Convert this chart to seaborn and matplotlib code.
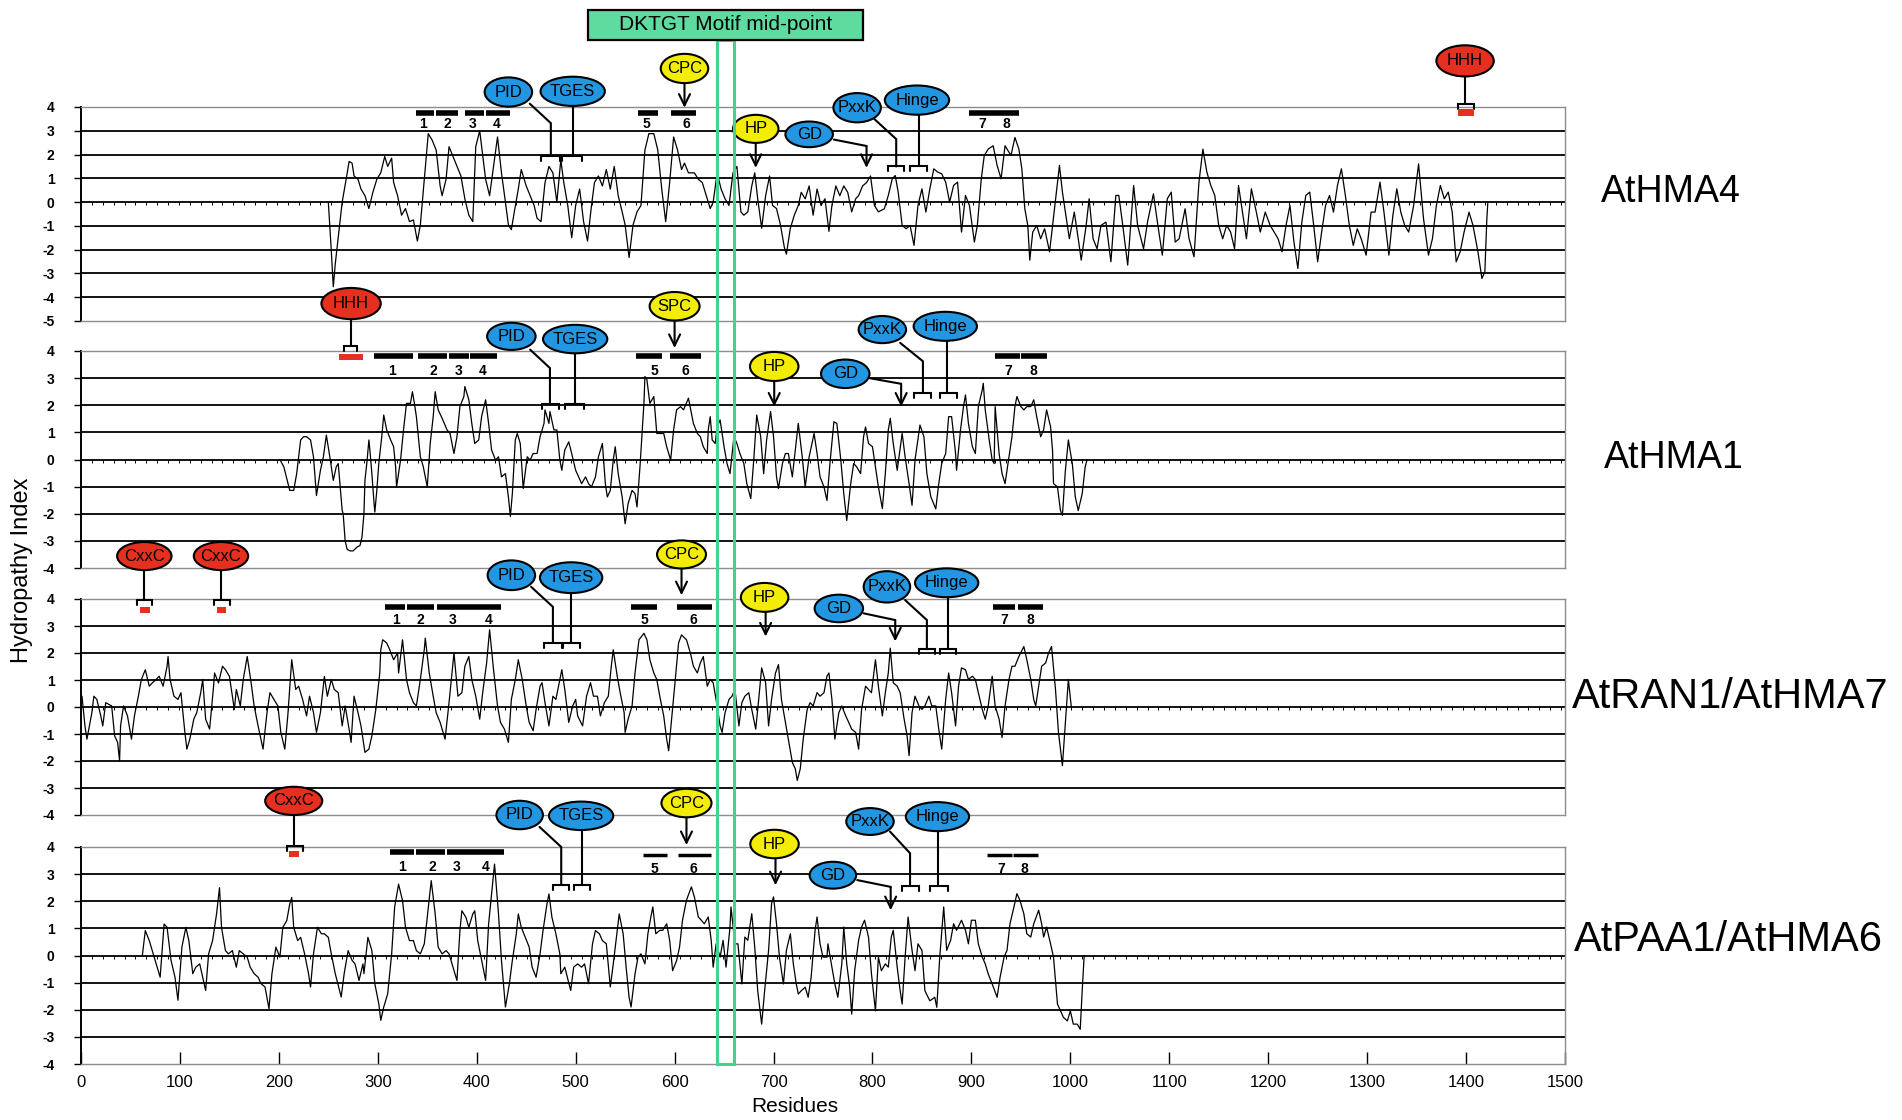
import numpy as np
import pandas as pd
import matplotlib
matplotlib.use("Agg")
import matplotlib.pyplot as plt
import seaborn as sns
from matplotlib.patches import Ellipse, Rectangle
from matplotlib.transforms import blended_transform_factory

# ---------------- data: (residue, hydropathy index) ----------------
hma4_profile = [
    (250, 0.0), (253, -2.05), (255, -3.56), (257, -2.6), (260, -1.5), (264, 0.0), (268, 0.96), (271, 1.71),
    (274, 1.64), (276, 1.1), (280, 0.96), (283, 0.55), (287, 0.27), (291, -0.27), (295, 0.41), (299, 0.96),
    (303, 1.23), (307, 1.92), (310, 1.5), (314, 1.85), (316, 0.82), (320, 0.27), (324, -0.55), (328, -0.27),
    (332, -0.82), (336, -0.75), (340, -1.64), (343, -0.96), (347, 0.96), (351, 2.88), (355, 2.6), (359, 2.19),
    (363, 0.68), (365, 0.27), (369, 0.96), (372, 2.33), (376, 1.92), (380, 1.5), (384, 1.1), (388, 0.14),
    (392, -0.55), (396, -0.82), (399, 2.33), (403, 3.0), (405, 2.33), (409, 0.96), (413, 0.27), (417, 1.5),
    (421, 2.74), (425, 1.23), (429, 0.0), (432, -0.96), (435, -1.16), (438, -0.41), (442, 0.55), (445, 1.37),
    (450, 0.68), (454, 0.27), (458, -0.14), (461, -0.68), (465, -0.82), (469, 0.82), (473, 1.5), (477, 1.23),
    (481, 0.0), (485, 1.78), (488, 0.82), (492, -0.14), (496, -1.5), (500, -0.14), (504, 0.55), (508, -0.82),
    (512, -1.64), (516, -0.14), (519, 0.82), (523, 1.1), (527, 0.68), (531, 1.37), (535, 0.55), (539, 1.5),
    (543, 0.27), (547, -0.41), (550, -0.96), (554, -2.33), (558, -0.96), (562, -0.41), (566, -0.14), (570, 2.19),
    (574, 2.88), (579, 2.88), (583, 2.19), (587, 0.55), (591, -0.82), (595, 0.82), (599, 2.74), (603, 2.19),
    (607, 1.37), (610, 1.64), (614, 1.23), (620, 1.23), (624, 0.96), (628, 0.82), (632, 0.27), (636, -0.27),
    (639, 0.0), (643, 1.23), (647, 0.55), (651, 0.14), (655, -0.14), (659, 1.23), (663, 1.5), (667, -0.41),
    (670, -0.55), (674, -0.41), (678, 0.68), (681, 1.23), (684, 0.14), (688, -1.1), (692, 0.27), (696, 1.1),
    (699, -0.14), (703, -0.27), (707, -0.96), (711, -1.92), (713, -2.19), (717, -1.1), (721, -0.55), (725, -0.14),
    (728, 0.41), (732, 0.14), (736, 0.68), (740, -0.55), (744, 0.55), (748, -0.14), (752, 0.14), (756, -1.23),
    (759, -0.14), (763, 0.68), (767, 0.27), (771, 0.68), (775, 0.41), (779, -0.41), (783, 0.14), (786, 0.27),
    (790, 0.68), (794, 0.82), (798, 1.1), (802, -0.14), (806, -0.41), (812, -0.28), (816, 0.28), (820, 0.98),
    (823, 1.12), (826, 0.42), (830, -0.98), (834, -1.12), (838, -0.98), (842, -1.82), (846, -0.14), (850, 0.56),
    (854, -0.42), (858, 0.56), (862, 1.4), (866, 1.26), (870, 1.19), (874, 0.84), (878, 0.0), (882, 0.7),
    (886, 0.84), (890, -1.26), (894, 0.28), (898, -0.14), (903, -1.68), (906, -0.98), (910, 0.98), (913, 1.96),
    (917, 2.23), (922, 2.37), (926, 1.54), (930, 0.98), (934, 2.37), (940, 1.96), (944, 2.72), (948, 2.23),
    (951, 1.4), (954, -0.28), (957, -0.98), (959, -2.44), (962, -1.26), (966, -0.98), (970, -1.54), (974, -1.12),
    (979, -2.09), (984, -0.28), (989, 1.54), (992, 0.42), (996, -0.7), (999, -1.54), (1004, -0.42), (1008, -1.54),
    (1011, -2.44), (1016, -0.98), (1019, 0.14), (1023, -1.54), (1027, -1.96), (1031, -0.98), (1036, -0.84),
    (1041, -2.51), (1046, 0.28), (1049, 0.28), (1053, -0.98), (1058, -2.65), (1064, 0.7), (1068, -0.98),
    (1074, -1.96), (1078, -0.84), (1084, 0.35), (1088, -0.84), (1093, -2.23), (1098, 0.14), (1102, 0.42),
    (1106, -1.68), (1110, -1.54), (1116, -0.28), (1120, -1.54), (1125, -2.3), (1130, 0.84), (1134, 2.23),
    (1138, 1.26), (1142, 0.7), (1146, 0.28), (1150, -0.98), (1154, -1.54), (1158, -0.98), (1162, -1.26),
    (1166, -1.96), (1170, 0.7), (1174, -0.42), (1178, -1.54), (1183, 0.56), (1188, -0.42), (1192, -1.26),
    (1197, -0.42), (1202, -0.98), (1206, -1.26), (1210, -1.54), (1214, -2.09), (1218, -0.98), (1222, -0.14),
    (1226, -1.68), (1230, -2.79), (1234, -0.84), (1238, 0.28), (1242, 0.42), (1246, -0.98), (1250, -2.51),
    (1254, -1.26), (1258, -0.14), (1262, 0.28), (1266, -0.42), (1270, 0.7), (1274, 1.4), (1278, 0.28),
    (1282, -0.98), (1286, -1.82), (1290, -1.12), (1294, -1.54), (1299, -2.23), (1304, -0.42), (1308, -0.42),
    (1313, 0.84), (1317, -0.42), (1322, -2.23), (1326, -0.56), (1330, 0.56), (1334, -0.42), (1338, -0.98),
    (1342, -1.26), (1347, -0.14), (1352, 1.61), (1357, -0.7), (1362, -2.23), (1366, -1.54), (1370, -0.14),
    (1374, 0.7), (1378, 0.14), (1382, 0.42), (1386, -0.42), (1390, -2.51), (1394, -2.09), (1398, -1.26),
    (1403, -0.42), (1407, -0.98), (1412, -2.09), (1416, -3.21), (1419, -2.93), (1421, -0.7), (1422, 0.0),
]

hma1_profile = [
    (201, 0.0), (205, -0.27), (208, -0.7), (211, -1.14), (215, -1.14), (218, -0.52), (222, 0.72), (225, 0.84),
    (228, 0.84), (232, 0.72), (235, 0.1), (238, -1.33), (242, -0.4), (245, 0.1), (248, 0.9), (252, -0.02),
    (255, -0.77), (258, -0.27), (260, -0.15), (264, -1.88), (265, -2.0), (267, -3.0), (269, -3.31), (272, -3.37),
    (275, -3.37), (279, -3.23), (282, -3.17), (284, -2.86), (286, -2.0), (287, -0.77), (289, -0.1), (291, 0.72),
    (292, 0.35), (294, -0.52), (296, -1.51), (297, -1.94), (299, -1.14), (301, -0.15), (304, 0.84), (306, 1.64),
    (309, 1.09), (313, 0.72), (316, 0.47), (318, -0.27), (319, -1.01), (323, -0.02), (326, 1.09), (329, 2.07),
    (333, 2.07), (335, 2.5), (337, 2.07), (339, 1.58), (343, 0.1), (346, -0.27), (350, -1.01), (353, 0.6),
    (356, 1.58), (358, 2.5), (361, 1.83), (365, 1.52), (370, 1.09), (373, 0.96), (377, 0.22), (380, 0.84),
    (383, 1.95), (387, 2.32), (388, 2.69), (392, 2.2), (395, 1.33), (398, 0.59), (402, 0.72), (405, 1.6),
    (409, 2.2), (412, 1.33), (415, 0.35), (419, -0.02), (422, 0.1), (425, -0.64), (429, -0.52), (432, -1.38),
    (434, -2.1), (436, -1.26), (439, 0.72), (441, 0.96), (444, 0.59), (447, -1.07), (451, 0.1), (454, -0.02),
    (457, 0.22), (461, 0.22), (464, 0.84), (468, 1.33), (469, 1.83), (473, 1.33), (474, 1.77), (478, 1.09),
    (481, 1.09), (484, -0.02), (486, -0.4), (489, 0.35), (493, 0.65), (496, 0.22), (500, -0.4), (503, -0.64),
    (506, -0.89), (510, -0.64), (513, -0.89), (516, -1.01), (520, -0.64), (523, 0.1), (527, 0.59), (530, -0.89),
    (532, -1.38), (535, -1.14), (538, -0.02), (540, 0.47), (543, -0.52), (547, -1.38), (550, -2.37), (553, -1.63),
    (557, -1.14), (560, -1.26), (562, -1.75), (565, -0.27), (569, 2.07), (570, 3.06), (572, 2.94), (575, 2.07),
    (579, 2.32), (582, 0.96), (585, 0.96), (589, 0.96), (592, 0.47), (596, -0.02), (599, 1.09), (602, 1.83),
    (606, 1.95), (609, 1.83), (614, 2.26), (619, 1.33), (623, 0.96), (626, 0.84), (629, 0.47), (633, 0.22),
    (634, 1.09), (636, 1.58), (638, 0.72), (641, 0.59), (643, 1.2), (646, 1.46), (650, 0.47), (653, -0.15),
    (656, -0.52), (660, 0.84), (663, 0.59), (666, 0.22), (670, -0.15), (673, -0.89), (677, -1.44), (680, -0.02),
    (683, 1.64), (687, 0.84), (690, -0.52), (693, 0.72), (697, 1.77), (700, 0.84), (703, -0.64), (705, -1.07),
    (709, -0.15), (712, 0.22), (715, 0.22), (719, -0.64), (722, 0.35), (725, 1.33), (729, 0.1), (732, -1.01),
    (736, 0.1), (741, 0.96), (744, 0.22), (747, -0.64), (751, -1.01), (754, -1.51), (757, -0.15), (761, 1.39),
    (764, 1.33), (768, -0.02), (771, -1.26), (774, -2.25), (778, -0.89), (781, -0.15), (784, -0.27), (788, -0.52),
    (791, 0.84), (793, 1.2), (796, 0.59), (800, 0.47), (803, -0.27), (806, -1.01), (810, -1.81), (813, -0.52),
    (816, 1.09), (818, 1.52), (821, 0.59), (825, -0.4), (830, 0.96), (833, 0.1), (837, -0.89), (840, -1.69),
    (843, -0.02), (848, 1.27), (852, 0.84), (855, -0.52), (859, -1.38), (864, -1.82), (867, -0.89), (870, -0.15),
    (874, 0.22), (877, 1.58), (880, 1.58), (884, 0.22), (885, -0.4), (889, 1.09), (892, 1.95), (894, 2.38),
    (897, 1.33), (901, 0.47), (904, 0.22), (907, 1.95), (911, 2.57), (912, 2.81), (914, 1.83), (918, 0.72),
    (921, -0.02), (923, -0.15), (924, 1.95), (928, 0.22), (931, -0.52), (934, -0.89), (938, 0.1), (941, 0.84),
    (944, 1.95), (946, 2.32), (950, 1.95), (953, 1.83), (956, 1.95), (960, 1.95), (963, 2.2), (966, 1.58),
    (970, 0.84), (973, 1.09), (976, 1.83), (980, 1.21), (982, 0.35), (983, -0.89), (987, -1.01), (990, -1.88),
    (992, -2.06), (995, -0.4), (998, 0.72), (1002, -0.15), (1005, -1.38), (1008, -1.88), (1012, -1.26),
    (1015, -0.27), (1017, 0.0),
]

ran1_profile = [
    (1, 0.4), (4, -0.7), (6, -1.19), (11, -0.21), (13, 0.4), (16, 0.28), (20, -0.33), (22, -0.7), (25, 0.16),
    (31, 0.04), (34, -1.07), (37, -1.31), (39, -2.0), (40, -0.7), (43, 0.04), (47, -0.33), (51, -1.19),
    (54, -0.33), (58, 0.4), (61, 1.02), (65, 1.38), (69, 0.77), (72, 0.89), (76, 1.02), (79, 1.14), (83, 0.77),
    (87, 1.51), (88, 1.87), (90, 1.02), (94, 0.4), (98, 0.28), (101, 0.53), (105, -0.94), (107, -1.56),
    (110, -1.19), (114, -0.45), (117, -0.21), (121, 0.53), (123, 1.02), (126, -0.45), (130, -0.82), (134, 0.77),
    (135, 1.26), (139, 0.89), (143, 1.51), (146, 1.38), (150, 1.14), (153, 0.4), (155, -0.09), (157, 0.65),
    (161, 0.04), (164, 1.02), (168, 1.87), (172, 0.89), (175, 0.04), (179, -0.7), (184, -1.56), (188, -0.21),
    (191, 0.53), (195, 0.28), (199, 0.04), (202, -0.94), (206, -1.56), (209, -0.33), (213, 1.75), (217, 0.65),
    (220, 0.77), (224, 0.28), (228, -0.33), (231, 0.4), (235, -0.21), (238, -0.94), (242, -0.21), (246, 1.13),
    (249, 0.4), (253, 1.02), (256, 0.65), (260, 0.53), (264, -0.7), (267, 0.04), (271, -0.82), (273, -1.31),
    (276, 0.4), (280, -0.21), (283, -0.7), (287, -1.68), (291, -1.56), (294, -1.07), (298, -0.09), (302, 1.26),
    (303, 2.12), (305, 2.49), (309, 2.37), (312, 2.13), (316, 1.75), (320, 2.0), (321, 1.26), (325, 2.49),
    (329, 1.02), (332, 0.53), (336, 0.16), (339, 0.04), (343, 1.02), (347, 2.13), (348, 2.55), (352, 1.26),
    (356, 0.4), (359, -0.21), (363, -0.57), (368, -1.19), (372, 0.16), (376, 1.63), (377, 2.0), (381, 0.4),
    (385, 0.53), (388, 1.51), (392, 1.87), (395, 1.02), (399, 0.4), (403, -0.45), (406, 0.53), (410, 1.63),
    (413, 2.86), (417, 1.38), (421, 0.04), (424, -0.57), (428, -0.82), (432, -1.31), (435, 0.28), (439, 1.02),
    (442, 1.75), (446, 1.02), (450, 0.04), (453, -0.57), (457, -0.88), (460, -0.09), (464, 0.77), (466, 0.9),
    (469, 0.16), (473, -0.7), (477, 0.4), (480, 0.28), (486, 1.38), (489, 0.65), (493, -0.57), (497, 0.04),
    (500, 0.28), (502, -0.33), (507, -0.7), (511, 0.4), (515, 0.9), (518, 0.4), (522, 0.4), (525, -0.33),
    (529, 0.16), (533, 0.4), (536, 1.51), (538, 2.12), (542, 1.14), (545, 0.53), (549, -0.21), (550, -0.94),
    (553, -0.45), (557, 0.04), (560, 1.26), (564, 2.49), (569, 2.73), (572, 2.49), (575, 1.75), (579, 1.26),
    (582, 1.02), (585, 0.4), (589, -0.33), (592, -1.19), (594, -1.62), (597, -0.45), (601, 1.14), (604, 2.37),
    (607, 2.67), (612, 2.49), (616, 1.99), (619, 1.51), (623, 1.26), (626, 1.63), (629, 1.87), (633, 0.77),
    (636, 1.02), (639, 0.9), (643, 0.04), (646, -0.7), (648, -0.94), (651, -0.21), (655, 0.28), (658, 0.4),
    (661, 0.65), (665, -0.7), (668, 0.16), (671, 0.4), (675, 0.53), (678, -0.09), (682, -0.82), (685, 0.28),
    (688, 1.45), (692, 0.9), (695, -0.7), (698, 0.28), (702, 1.26), (705, 1.57), (708, 0.28), (712, -0.57),
    (715, -1.19), (719, -2.05), (722, -2.29), (724, -2.72), (727, -2.29), (730, -1.19), (734, -0.09), (737, 0.16),
    (740, 0.04), (744, 0.53), (747, 0.4), (751, 0.53), (754, 1.14), (756, 1.26), (759, 0.28), (762, -1.19),
    (766, -0.21), (769, 0.04), (773, -0.33), (776, -0.57), (779, -0.82), (783, -0.94), (786, -1.56), (789, -0.09),
    (793, 0.77), (796, 0.65), (799, 0.53), (803, 1.75), (806, 0.77), (810, -0.33), (813, 0.53), (816, 1.26),
    (818, 2.18), (821, 0.9), (825, 0.77), (828, 0.53), (832, -0.45), (835, -1.07), (837, -1.8), (840, -0.21),
    (843, 0.4), (847, 0.04), (850, -0.09), (853, 0.04), (857, 0.4), (860, 0.04), (864, 0.04), (867, -0.82),
    (870, -1.56), (874, 0.28), (877, 1.26), (880, 0.53), (884, -0.7), (887, 0.77), (890, 1.45), (894, 1.38),
    (897, 1.02), (901, 1.14), (904, 1.02), (907, 0.53), (911, -0.09), (914, -0.45), (917, 0.04), (921, 1.14),
    (924, 0.04), (928, -0.45), (931, -1.13), (934, 0.04), (938, 1.02), (941, 1.51), (944, 1.51), (948, 1.87),
    (953, 2.24), (956, 1.75), (960, 1.02), (963, 0.28), (965, 0.04), (968, 0.77), (971, 1.51), (975, 1.63),
    (978, 2.0), (981, 2.24), (985, 0.65), (988, -0.94), (992, -2.17), (995, -0.57), (998, 1.02), (1001, 0.0),
]

paa1_profile = [
    (62, 0.0), (65, 0.92), (69, 0.55), (73, 0.06), (76, -0.31), (80, -0.8), (84, 1.16), (87, 1.04), (91, -0.18),
    (95, -0.8), (98, -1.65), (102, 0.31), (106, 1.04), (109, 0.55), (113, -0.67), (116, -0.43), (120, -0.31),
    (126, -1.29), (129, 0.06), (133, 0.55), (137, 1.53), (140, 2.5), (142, 1.04), (146, 0.18), (149, 0.06),
    (153, 0.18), (157, -0.43), (160, 0.18), (164, 0.06), (168, -0.06), (171, -0.43), (175, -0.67), (179, -0.8),
    (182, -1.04), (186, -1.16), (190, -1.96), (193, -0.67), (197, 0.31), (201, -0.06), (204, 1.04), (208, 1.29),
    (211, 1.9), (213, 2.14), (215, 1.04), (219, 0.55), (222, 0.67), (226, 0.06), (230, -0.67), (232, -1.16),
    (235, 0.06), (239, 1.04), (243, 0.8), (246, 0.8), (250, 0.67), (253, 0.06), (257, -0.67), (263, -1.53),
    (266, -0.67), (270, 0.18), (274, -0.18), (277, -0.31), (281, -0.92), (285, -0.31), (286, -0.67), (290, 0.67),
    (294, 0.18), (297, -1.04), (301, -1.78), (303, -2.39), (306, -1.9), (310, -1.41), (314, 0.06), (317, 1.78),
    (321, 2.63), (325, 2.02), (328, 1.04), (332, 0.55), (336, 0.55), (339, 0.18), (343, 0.06), (347, 0.43),
    (350, 1.41), (354, 2.76), (358, 1.53), (361, 0.31), (365, 0.06), (369, 0.18), (372, 0.06), (376, -0.43),
    (380, -0.92), (383, 0.92), (385, 1.65), (389, 1.41), (392, 1.04), (396, 1.53), (398, 1.65), (401, 0.55),
    (405, -0.18), (409, -0.92), (412, 1.16), (416, 2.63), (418, 3.37), (422, 1.53), (425, -0.18), (429, -1.9),
    (433, -1.04), (436, -0.18), (440, 0.8), (442, 1.53), (445, 1.04), (449, 0.67), (453, 0.31), (456, -0.43),
    (460, -0.8), (464, 0.06), (467, 0.92), (471, 1.9), (473, 2.27), (476, 1.41), (480, 0.8), (484, 0.06),
    (485, -0.67), (489, -0.43), (495, -1.29), (498, -0.43), (502, -0.31), (506, -0.43), (509, -0.31), (513, -1.04),
    (517, 0.43), (520, 0.92), (524, 0.8), (527, 0.55), (531, 0.43), (535, -1.16), (538, -0.31), (544, 1.53),
    (548, 0.8), (551, -0.43), (554, -1.54), (556, -1.9), (560, -0.68), (563, -0.06), (566, 0.06), (570, -0.31),
    (573, 0.8), (576, 1.42), (578, 1.79), (581, 0.8), (585, 0.93), (588, 0.93), (592, 1.17), (595, 0.56),
    (598, -0.56), (602, -0.19), (605, 0.31), (608, 1.3), (612, 2.04), (617, 2.53), (620, 2.16), (624, 1.42),
    (627, 1.3), (630, 1.17), (634, 1.42), (637, 0.56), (639, -0.43), (642, 0.43), (646, -0.06), (649, 0.56),
    (652, -0.43), (656, 1.05), (657, 1.79), (661, 0.43), (664, 0.43), (668, -1.05), (671, 0.68), (674, 0.56),
    (678, 1.54), (681, 0.31), (684, -1.3), (688, -2.53), (691, -1.3), (695, 0.19), (698, 1.91), (700, 2.16),
    (703, 1.17), (706, -0.06), (710, -1.05), (713, 0.19), (717, 0.8), (720, -0.31), (723, -1.05), (725, -1.42),
    (728, -1.3), (732, -1.17), (735, -1.54), (738, -0.8), (742, 0.93), (744, 1.42), (747, 0.43), (750, -0.06),
    (754, -0.06), (755, 0.43), (759, -0.43), (762, -1.05), (765, -1.54), (769, -0.31), (771, 1.05), (774, -0.31),
    (777, -1.17), (779, -2.16), (782, -0.56), (786, 0.56), (789, 1.05), (792, 1.3), (796, 0.68), (799, -0.68),
    (803, -2.04), (806, -0.06), (809, -0.56), (813, -0.31), (816, -0.43), (819, 0.68), (821, 0.93), (825, -0.43),
    (828, -1.3), (830, -1.79), (833, -0.06), (836, 1.42), (840, 0.19), (843, -0.56), (846, 0.43), (850, 0.19),
    (853, -1.3), (858, -1.67), (863, -1.54), (865, -1.91), (868, -0.06), (872, 1.79), (875, 0.19), (879, 0.56),
    (882, 1.17), (885, 0.93), (890, 1.3), (894, 0.93), (897, 0.43), (900, 1.3), (904, 1.3), (907, 0.43),
    (911, -0.06), (914, -0.31), (917, -0.68), (921, -1.05), (926, -1.54), (929, -0.8), (933, -0.06), (936, 0.19),
    (939, 1.17), (943, 1.79), (946, 2.28), (949, 2.04), (953, 1.54), (956, 0.8), (960, 0.68), (963, 1.17),
    (968, 1.67), (971, 1.17), (973, 0.68), (976, 1.05), (980, 0.43), (983, -0.06), (987, -1.79), (990, -2.04),
    (993, -2.28), (997, -2.41), (1000, -2.04), (1003, -2.53), (1007, -2.53), (1010, -2.72), (1012, -1.3),
    (1014, 0.0),
]

protein_names = ["AtHMA4", "AtHMA1", "AtRAN1/AtHMA7", "AtPAA1/AtHMA6"]
x_tick_values = list(range(0, 1501, 100))
motif_label = "DKTGT Motif mid-point"
motif_span = (643, 660)

BLUE, YEL, RED = "#2396e1", "#f3ec05", "#e6301f"

# ---------------- annotation layout per panel ----------------
specs = [
    dict(
        ellipses=[("PID", 432, 4.63, 48, 1.23, BLUE), ("TGES", 497, 4.66, 65, 1.23, BLUE),
                  ("CPC", 610, 5.62, 48, 1.23, YEL), ("HP", 682, 3.08, 46, 1.18, YEL),
                  ("GD", 736, 2.85, 48, 1.08, BLUE), ("PxxK", 784.5, 3.97, 48, 1.23, BLUE),
                  ("Hinge", 845, 4.29, 65, 1.23, BLUE), ("HHH", 1399, 5.94, 58, 1.31, RED)],
        bars=[(339, 357, 3.73, 4), (359, 381, 3.73, 4), (388, 407, 3.73, 4), (409, 434, 3.73, 4),
              (563, 583, 3.73, 4), (596, 622, 3.73, 4), (898, 948, 3.73, 4)],
        labels=[("1", 346, 3.29), ("2", 370, 3.29), ("3", 396, 3.29), ("4", 420, 3.29),
                ("5", 572, 3.29), ("6", 612, 3.29), ("7", 911, 3.29), ("8", 935, 3.29)],
        lines=[[(453.6, 4.14), (474.9, 3.32), (474.9, 1.95)], [(497, 4.05), (497, 1.95)],
               [(802, 3.49), (824, 2.65), (824, 1.5)], [(847, 3.68), (847, 1.5)],
               [(1399, 5.29), (1399, 4.12)], [(761, 2.63), (794, 2.36)]],
        brackets=[(465, 484.6, 1.95), (486.5, 505.9, 1.95), (816, 832, 1.5), (838, 855, 1.5),
                  (1392, 1408, 4.12)],
        arrows=[(610, 5.0, 3.97), (682, 2.49, 1.44), (794, 2.36, 1.44)],
        red_boxes=[(1392, 1408, 3.62, 3.92)],
    ),
    dict(
        ellipses=[("HHH", 273, 5.75, 60, 1.15, RED), ("PID", 435, 4.54, 49, 1.0, BLUE),
                  ("TGES", 499.5, 4.44, 65, 1.05, BLUE), ("SPC", 600, 5.65, 50.5, 1.05, YEL),
                  ("HP", 700.7, 3.43, 49, 1.07, YEL), ("GD", 772.5, 3.16, 49, 1.05, BLUE),
                  ("PxxK", 810, 4.79, 48, 1.0, BLUE), ("Hinge", 873.6, 4.91, 64, 1.07, BLUE)],
        bars=[(296, 336, 3.8, 4), (341, 370, 3.8, 4), (372, 392, 3.8, 4), (393, 420, 3.8, 4),
              (561, 587, 3.8, 4), (595, 627, 3.8, 4), (924, 949, 3.8, 4), (950, 976, 3.8, 4)],
        labels=[("1", 314, 3.25), ("2", 356, 3.25), ("3", 382, 3.25), ("4", 406, 3.25),
                ("5", 580, 3.25), ("6", 611, 3.25), ("7", 937, 3.25), ("8", 963, 3.25)],
        lines=[[(273, 5.17), (273, 4.17)], [(454, 4.05), (474, 3.37), (474, 2.05)],
               [(499, 3.92), (499, 2.05)], [(797, 3.0), (829, 2.79)],
               [(828, 4.3), (851, 3.62), (851, 2.47)], [(875, 4.36), (875, 2.47)]],
        brackets=[(266, 279.4, 4.17), (466, 483, 2.05), (489, 508, 2.05), (842, 859, 2.47),
                  (868, 885, 2.47)],
        arrows=[(600, 5.12, 4.11), (700.7, 2.9, 1.95), (829, 2.79, 1.95)],
        red_boxes=[(261, 285.5, 3.66, 3.9)],
    ),
    dict(
        ellipses=[("CxxC", 64, 5.59, 55, 1.04, RED), ("CxxC", 141.5, 5.59, 55, 1.04, RED),
                  ("PID", 435, 4.88, 48, 1.1, BLUE), ("TGES", 495.4, 4.79, 63, 1.14, BLUE),
                  ("CPC", 607, 5.65, 49.5, 1.04, YEL), ("HP", 691, 4.06, 48, 1.07, YEL),
                  ("GD", 766, 3.65, 49, 1.02, BLUE), ("PxxK", 814.6, 4.45, 47, 1.16, BLUE),
                  ("Hinge", 875, 4.6, 64, 1.07, BLUE)],
        bars=[(307, 327, 3.71, 4), (330, 357, 3.71, 4), (360, 390, 3.71, 4), (390, 425, 3.71, 4),
              (556, 582, 3.71, 4), (602, 638, 3.71, 4), (922, 944, 3.71, 4), (947, 972, 3.71, 4)],
        labels=[("1", 318, 3.22), ("2", 343, 3.22), ("3", 376, 3.22), ("4", 412, 3.22),
                ("5", 570, 3.22), ("6", 619, 3.22), ("7", 933, 3.22), ("8", 960, 3.22)],
        lines=[[(64, 5.07), (64, 3.96)], [(141.5, 5.07), (141.5, 3.96)],
               [(455, 4.45), (477, 3.71), (477, 2.37)], [(495.4, 4.22), (495.4, 2.37)],
               [(791, 3.47), (823, 3.22)], [(833, 3.96), (855, 3.22), (855, 2.14)],
               [(876, 4.07), (876, 2.14)]],
        brackets=[(57, 72, 3.96), (134.7, 150.5, 3.96), (468, 486, 2.37), (487.5, 504.5, 2.37),
                  (846.6, 863.5, 2.14), (868, 884, 2.14)],
        arrows=[(607, 5.13, 4.14), (692, 3.52, 2.61), (823, 3.22, 2.43)],
        red_boxes=[(59.5, 69.3, 3.5, 3.72), (137.2, 146.9, 3.5, 3.72)],
    ),
    dict(
        ellipses=[("CxxC", 215, 5.7, 57.7, 1.04, RED), ("PID", 443.4, 5.18, 47, 1.05, BLUE),
                  ("TGES", 505.5, 5.15, 65, 1.05, BLUE), ("CPC", 612, 5.62, 50.6, 1.05, YEL),
                  ("HP", 701, 4.11, 49, 1.05, YEL), ("GD", 760, 2.96, 47, 0.99, BLUE),
                  ("PxxK", 797.5, 4.94, 48, 0.99, BLUE), ("Hinge", 865.7, 5.12, 64, 1.07, BLUE)],
        bars=[(312, 337, 3.8, 4), (339, 368, 3.8, 4), (370, 398, 3.8, 4), (398, 428, 3.8, 4),
              (568, 592, 3.72, 2.5), (603, 637, 3.72, 2.5), (916, 941, 3.72, 2.5), (942, 967, 3.72, 2.5)],
        labels=[("1", 324, 3.27), ("2", 355, 3.27), ("3", 380, 3.27), ("4", 409, 3.27),
                ("5", 580, 3.2), ("6", 619, 3.2), ("7", 930, 3.2), ("8", 954, 3.2)],
        lines=[[(215, 5.18), (215, 4.04)], [(463.5, 4.74), (485.4, 4.0), (485.4, 2.61)],
               [(506, 4.62), (506, 2.61)], [(784.6, 2.78), (818.4, 2.53)],
               [(817.7, 4.57), (838, 3.77), (838, 2.56)], [(866.5, 4.58), (866.5, 2.56)]],
        brackets=[(208.5, 224.2, 4.04), (477, 493.4, 2.61), (498, 514.6, 2.61), (829.5, 847, 2.56),
                  (858, 876, 2.56)],
        arrows=[(612, 5.1, 4.07), (702, 3.58, 2.59), (818.4, 2.53, 1.67)],
        red_boxes=[(210.7, 220.5, 3.62, 3.84)],
    ),
]

profiles = [hma4_profile, hma1_profile, ran1_profile, paa1_profile]
# panel frames in pixels: (top y=4, bottom, ymin)
frames = [(107, 321, -5), (351, 568, -4), (599, 815, -4), (847, 1064, -4)]
name_pos = [(1601, 192, 27), (1604, 458, 27), (1572, 697, 30), (1574, 940, 30)]

# ---------------- figure ----------------
sns.set_theme(style="white")
plt.rcParams["font.family"] = ["Liberation Sans", "DejaVu Sans"]
plt.rcParams["text.color"] = "black"
plt.rcParams["axes.labelcolor"] = "black"
plt.rcParams["xtick.color"] = "black"
plt.rcParams["ytick.color"] = "black"

W, H = 1902, 1120
fig = plt.figure(figsize=(W / 100, H / 100), dpi=100)
X0, X1 = 81, 1565


def fx(px):
    return px / W


def fy(py):
    return 1 - py / H


axes = []
for i, (prof, spec, (top, bot, ymin)) in enumerate(zip(profiles, specs, frames)):
    ax = fig.add_axes([fx(X0), fy(bot), (X1 - X0) / W, (bot - top) / H])
    ax.set_facecolor("none")
    ppu = (bot - top) / (4 - ymin)  # pixels per unit
    df = pd.DataFrame(prof, columns=["residue", "hydropathy"])

    # grid lines
    for v in range(ymin + 1, 4):
        ax.axhline(v, color="black", lw=1.3, zorder=1)
    ax.vlines(np.arange(0, 1501, 11), -3.0 / ppu, 0, color="black", lw=0.7, zorder=1)

    sns.lineplot(data=df, x="residue", y="hydropathy", ax=ax, color="black", lw=0.9,
                 estimator=None, sort=False, legend=False, zorder=3)

    ax.set_xlim(0, 1500)
    ax.set_ylim(ymin, 4)
    ax.grid(False)
    for s in ["top", "bottom", "right"]:
        ax.spines[s].set_color("#8c8c8c")
        ax.spines[s].set_linewidth(1.0)
    ax.spines["left"].set_color("black")
    ax.spines["left"].set_linewidth(1.4)
    ax.set_yticks(range(ymin, 5))
    ax.set_yticklabels([str(v) for v in range(ymin, 5)], fontweight="bold", fontsize=10, color="black")
    ax.tick_params(axis="y", direction="out", length=5, width=1, pad=14, colors="black", left=True)
    ax.set_xlabel("")
    ax.set_ylabel("")
    if i < 3:
        ax.set_xticks([])
    else:
        ax.set_xticks(x_tick_values)
        ax.set_xticklabels([str(v) for v in x_tick_values], fontsize=12, color="black")
        ax.tick_params(axis="x", direction="in", length=9, width=1, pad=8, colors="black", bottom=True)

    d = 5.0 / ppu
    kw = dict(color="black", lw=1.5, clip_on=False, zorder=4, solid_joinstyle="miter")
    for (x0, x1, y, lw) in spec["bars"]:
        ax.plot([x0, x1], [y, y], color="black", lw=lw, solid_capstyle="butt", clip_on=False, zorder=4)
    for (t, x, y) in spec["labels"]:
        ax.text(x, y, t, ha="center", va="center", fontsize=10, fontweight="bold", color="black",
                zorder=4, clip_on=False)
    for pts in spec["lines"]:
        xs, ys = zip(*pts)
        ax.plot(xs, ys, **kw)
    for (x0, x1, y) in spec["brackets"]:
        ax.plot([x0, x0, x1, x1], [y - d, y, y, y - d], **kw)
    for (x, y0, y1) in spec["arrows"]:
        ax.annotate("", xy=(x, y1), xytext=(x, y0), annotation_clip=False,
                    arrowprops=dict(arrowstyle="->,head_length=0.45,head_width=0.22", color="black",
                                    lw=1.5, mutation_scale=18, shrinkA=0, shrinkB=0), zorder=4)
    for (x0, x1, y0, y1) in spec["red_boxes"]:
        ax.add_patch(Rectangle((x0, y0), x1 - x0, y1 - y0, facecolor=RED, edgecolor="none",
                               clip_on=False, zorder=4))
    for (t, x, y, w, h, c) in spec["ellipses"]:
        ax.add_patch(Ellipse((x, y), w, h, facecolor=c, edgecolor="black", lw=1.5,
                             clip_on=False, zorder=5))
        ax.text(x, y, t, ha="center", va="center", fontsize=12, color="black", zorder=6, clip_on=False)

    nx, ny, nfs = name_pos[i]
    fig.text(fx(nx), fy(ny), protein_names[i], ha="left", va="center", fontsize=nfs, color="black")
    axes.append(ax)

# axis titles
fig.text(fx(22), fy(570), "Hydropathy Index", rotation=90, ha="center", va="center", fontsize=17,
         color="black")
fig.text(fx(795), fy(1106), "Residues", ha="center", va="center", fontsize=15, color="black")

# DKTGT motif marker
trans = blended_transform_factory(axes[3].transData, fig.transFigure)
fig.add_artist(Rectangle((motif_span[0], fy(1064)), motif_span[1] - motif_span[0], fy(40) - fy(1064),
                         transform=trans, fill=False, edgecolor="#3fd58e", lw=2.2, zorder=10))
fig.add_artist(Rectangle((fx(588), fy(40)), 275 / W, 30 / H, transform=fig.transFigure,
                         facecolor="#5fdba0", edgecolor="black", lw=1.6, zorder=11))
fig.text(fx(725.5), fy(25), motif_label, ha="center", va="center", fontsize=15, color="black", zorder=12)

fig.savefig("out.png", dpi=100)
